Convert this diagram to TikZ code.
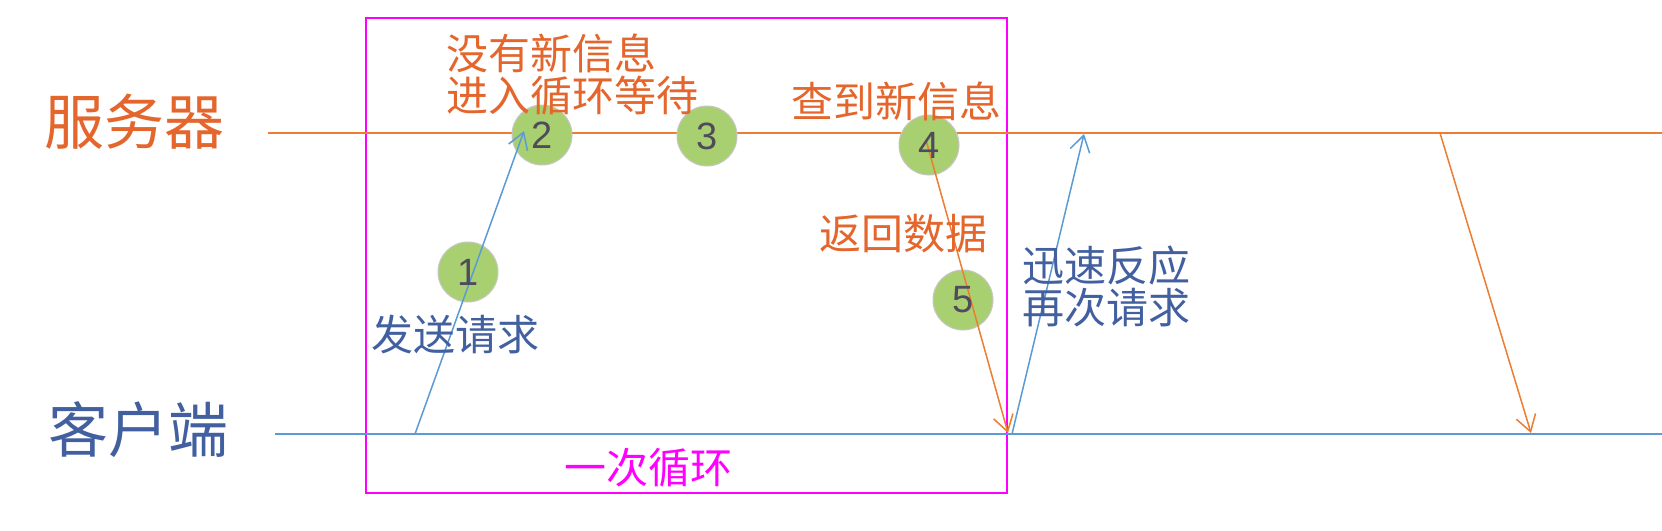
\documentclass[tikz,border=0pt]{standalone}
\usepackage{fontspec}
\setmainfont{Liberation Sans}
\newfontfamily\cjk{Noto Sans CJK SC}
\usetikzlibrary{arrows.meta}
\definecolor{srvline}{RGB}{237,125,49}
\definecolor{srvtext}{RGB}{228,102,44}
\definecolor{cliline}{RGB}{91,155,213}
\definecolor{clitext}{RGB}{66,96,160}
\definecolor{cgreen}{RGB}{169,208,112}
\definecolor{digitc}{RGB}{80,75,90}
\definecolor{mag}{RGB}{255,0,255}
\begin{document}
\begin{tikzpicture}[x=1pt,y=-1pt,
  big/.style={inner sep=0,font=\cjk\fontsize{60}{60}\selectfont},
  lbl/.style={inner sep=0,anchor=west,font=\cjk\fontsize{42}{42}\selectfont},
  disc/.style={circle,minimum size=60pt,inner sep=0,fill=cgreen,draw=gray!45,line width=1pt},
  num/.style={inner sep=0,font=\fontsize{38}{38}\selectfont,text=digitc},
  arr/.style={line width=1.5pt,-{Straight Barb[length=16pt,width=20pt]}}]
\useasboundingbox (0,0) rectangle (1662,530);
\fill[white] (0,0) rectangle (1662,530);

% side labels
\node[big,text=srvtext] (srv) at (134,122) {服务器};
\node[big,text=clitext] (cli) at (138,430) {客户端};

% one-loop box
\node[draw=mag,line width=1.5pt,minimum width=641pt,minimum height=475pt,inner sep=0,anchor=north west] (loop) at (365,17) {};

% time lines
\coordinate (s0) at (268,133);
\coordinate (s1) at (1662,133);
\coordinate (k0) at (275,434);
\coordinate (k1) at (1662,434);
\draw[srvline,line width=2pt] (s0) -- (s1);
\draw[cliline,line width=2pt] (k0) -- (k1);

% step discs
\node[disc] (c1) at (468,272) {};
\node[disc] (c2) at (542,135) {};
\node[disc] (c3) at (707,136) {};
\node[disc] (c4) at (929,145) {};
\node[disc] (c5) at (963,300) {};

% arrows
\coordinate (a1s) at (415,434);
\coordinate (a1e) at (524,131);
\coordinate (a2s) at (926,140);
\coordinate (a2e) at (1008,433);
\coordinate (a3s) at (1012,434);
\coordinate (a3e) at (1084,134);
\coordinate (a4s) at (1440,133);
\coordinate (a4e) at (1531,433);
\draw[arr,cliline] (a1s) -- (a1e);
\draw[arr,srvline] (a2s) -- (a2e);
\draw[arr,cliline] (a3s) -- (a3e);
\draw[arr,srvline] (a4s) -- (a4e);

% digits
\node[num] (d1) at (c1) {1};
\node[num] (d2) at (c2) {2};
\node[num] (d3) at (c3) {3};
\node[num] (d4) at (c4) {4};
\node[num] (d5) at (c5) {5};

% texts
\node[lbl,text=srvtext] (t1) at (446,53) {没有新信息};
\node[lbl,text=srvtext] (t2) at (446,96) {进入循环等待};
\node[lbl,text=srvtext] (t3) at (791,101) {查到新信息};
\node[lbl,text=srvtext] (t4) at (819,234) {返回数据};
\node[lbl,text=clitext] (t5) at (1022,266) {迅速反应};
\node[lbl,text=clitext] (t6) at (1022,308) {再次请求};
\node[lbl,text=clitext] (t7) at (371,335) {发送请求};
\node[lbl,text=mag] (t8) at (564,468) {一次循环};
\end{tikzpicture}
\end{document}
